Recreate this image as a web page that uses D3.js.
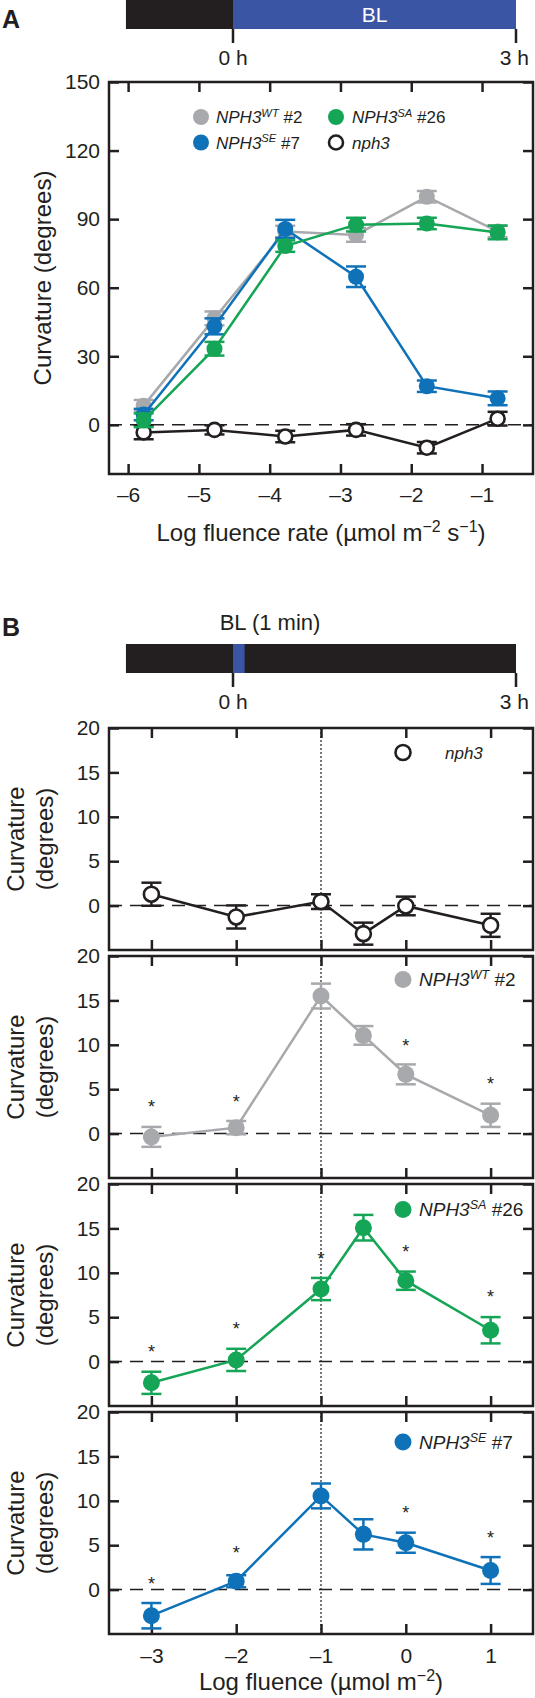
<!DOCTYPE html>
<html>
<head>
<meta charset="utf-8">
<script src="https://cdn.jsdelivr.net/npm/d3@7"></script>
<style>
  html, body { margin: 0; padding: 0; background: #fff; }
  svg { display: block; }
  text { font-family: "Liberation Sans", Arial, Helvetica, sans-serif; fill: #231f20; }
</style>
</head>
<body>
<div id="chart"></div>
<script>
// ---------------- DATA ----------------
// Panel A: log fluence rate (µmol m^-2 s^-1)
const fluenceRateA = [-5.78, -4.78, -3.78, -2.78, -1.78, -0.78];
const wtA   = [8.4, 46.6, 84.6, 83.1, 99.8, 84.6];
const wtAErr = [2.5, 3, 2.5, 3, 2.5, 2.5];
const seA   = [4.5, 43.1, 85.7, 64.8, 16.9, 11.6];
const seAErr = [2.5, 3.5, 4, 4.5, 2.5, 3];
const saA   = [2.0, 33.3, 78.2, 87.6, 88.1, 84.2];
const saAErr = [3, 3, 2.5, 3, 2.5, 3];
const nph3A = [-3.3, -2.2, -5.1, -2.2, -10.0, 2.7];
const nph3AErr = [3, 2, 2.5, 2.5, 2.5, 3];
const xTicksA = [-6, -5, -4, -3, -2, -1];
const yTicksA = [0, 30, 60, 90, 120, 150];

// Panel B: log fluence (µmol m^-2)
const fluenceB = [-3, -2, -1, -0.5, 0, 1];
const nph3B = [1.28, -1.28, 0.45, -3.16, -0.04, -2.22];
const nph3BErr = [1.3, 1.3, 0.83, 1.24, 1.05, 1.3];
const wtB = [-0.37, 0.67, 15.49, 11.06, 6.67, 2.06];
const wtBErr = [1.12, 0.75, 1.4, 1.05, 1.12, 1.31];
const saB = [-2.39, 0.19, 8.17, 15.08, 9.11, 3.53];
const saBErr = [1.25, 1.25, 1.25, 1.44, 1.03, 1.48];
const seB = [-2.94, 0.94, 10.55, 6.22, 5.28, 2.15];
const seBErr = [1.43, 0.68, 1.4, 1.7, 1.13, 1.51];
// significance asterisks (x, y in degrees)
const wtStarX = [-3, -2, 0, 1];
const wtStarY = [3.49, 4.05, 10.35, 6.04];
const saStarX = [-3, -2, -1, 0, 1];
const saStarY = [1.52, 4.1, 12.04, 12.84, 7.67];
const seStarX = [-3, -2, 0, 1];
const seStarY = [1.13, 4.52, 9.05, 6.22];
const xTicksB = [-3, -2, -1, 0, 1];
const yTicksB = [0, 5, 10, 15, 20];

// Timeline (hours)
const timeTicks = [0, 3];
const timeTickLabels = ["0 h", "3 h"];

// ---------------- STYLE ----------------
const C = {
  dark: "#231f20", grey: "#a7a9ac", green: "#15a556", blue: "#0f72b9", bl: "#3b55a5"
};
const FONT_TICK = 21, FONT_TITLE = 24;

const svg = d3.select("#chart").append("svg")
  .attr("width", 535).attr("height", 1698);
svg.append("rect").attr("width", 535).attr("height", 1698).attr("fill", "#fff");

// ---------- helpers ----------
function frameAndTicks(g, x, y, xt, yt, opts) {
  const [x0, x1] = x.range();
  const [yb, yt0] = y.range();
  // ticks (inward)
  const tl = 10;
  const ax = g.append("g").attr("class", "ticks");
  const bottom = d3.axisBottom(x).tickValues(xt).tickSize(-tl).tickSizeOuter(0)
    .tickPadding(opts.xPad || 13)
    .tickFormat(opts.xLabels ? (d => d < 0 ? "\u2013" + Math.abs(d) : String(d)) : "");
  ax.append("g").attr("transform", `translate(0,${yb})`).call(bottom);
  ax.append("g").attr("transform", `translate(0,${yt0})`)
    .call(d3.axisTop(x).tickValues(xt).tickSize(-tl).tickSizeOuter(0).tickFormat(""));
  ax.append("g").attr("transform", `translate(${x0},0)`)
    .call(d3.axisLeft(y).tickValues(yt).tickSize(-tl).tickSizeOuter(0).tickPadding(9));
  ax.append("g").attr("transform", `translate(${x1},0)`)
    .call(d3.axisRight(y).tickValues(yt).tickSize(-tl).tickSizeOuter(0).tickFormat(""));
  ax.selectAll(".domain").remove();
  ax.selectAll(".tick line").attr("stroke", C.dark).attr("stroke-width", 2.5);
  ax.selectAll(".tick text").attr("font-size", FONT_TICK).attr("fill", C.dark)
    .attr("font-family", '"Liberation Sans", Arial, sans-serif');
  // frame
  g.append("rect").attr("x", x0).attr("y", yt0).attr("width", x1 - x0).attr("height", yb - yt0)
    .attr("fill", "none").attr("stroke", C.dark).attr("stroke-width", 2.5);
}

function zeroLine(g, x, y) {
  g.append("line").attr("x1", x.range()[0]).attr("x2", x.range()[1])
    .attr("y1", y(0)).attr("y2", y(0))
    .attr("stroke", C.dark).attr("stroke-width", 1.5).attr("stroke-dasharray", "13,8");
}

function series(g, x, y, xs, vs, es, color, open, r, capW, lw) {
  const pts = xs.map((d, i) => ({ x: d, v: vs[i], e: es[i] }));
  const line = d3.line().x(d => x(d.x)).y(d => y(d.v));
  g.append("path").datum(pts).attr("d", line).attr("fill", "none")
    .attr("stroke", color).attr("stroke-width", lw);
  const eb = g.append("g");
  pts.forEach(p => {
    const cx = x(p.x), yt = y(p.v + p.e), ybm = y(p.v - p.e);
    eb.append("line").attr("x1", cx).attr("x2", cx).attr("y1", yt).attr("y2", ybm)
      .attr("stroke", color).attr("stroke-width", 2.5);
    [yt, ybm].forEach(yy => eb.append("line").attr("x1", cx - capW).attr("x2", cx + capW)
      .attr("y1", yy).attr("y2", yy).attr("stroke", color).attr("stroke-width", 2.5));
  });
  g.append("g").selectAll("circle").data(pts).join("circle")
    .attr("cx", d => x(d.x)).attr("cy", d => y(d.v))
    .attr("r", open ? r - 1 : r)
    .attr("fill", open ? "#fff" : color)
    .attr("stroke", open ? C.dark : "none").attr("stroke-width", open ? 2.6 : 0);
}

function legendItem(g, mx, my, tx, color, open, r, parts, fs) {
  g.append("circle").attr("cx", mx).attr("cy", my).attr("r", open ? r - 1 : r)
    .attr("fill", open ? "#fff" : color).attr("stroke", open ? C.dark : "none")
    .attr("stroke-width", open ? 2.6 : 0);
  const t = g.append("text").attr("x", tx).attr("y", my + fs * 0.36)
    .attr("font-size", fs).attr("font-style", "italic");
  t.append("tspan").text(parts[0]);
  if (parts[1]) {
    t.append("tspan").attr("dy", -fs * 0.38).attr("font-size", fs * 0.66).text(parts[1]);
    t.append("tspan").attr("dy", fs * 0.38).attr("font-style", "normal").text(" " + parts[2]);
  }
}

function timeline(g, tScale, y0, y1, segs, tickBottom, labelY) {
  segs.forEach(s => g.append("rect").attr("x", tScale(s.from)).attr("y", y0)
    .attr("width", tScale(s.to) - tScale(s.from)).attr("height", y1 - y0).attr("fill", s.color));
  timeTicks.forEach((t, i) => {
    g.append("line").attr("x1", tScale(t)).attr("x2", tScale(t)).attr("y1", y1).attr("y2", tickBottom)
      .attr("stroke", C.dark).attr("stroke-width", 2.5);
    g.append("text").attr("x", i === timeTicks.length - 1 ? 529 : tScale(t))
      .attr("y", labelY).attr("font-size", FONT_TICK)
      .attr("text-anchor", i === timeTicks.length - 1 ? "end" : "middle").text(timeTickLabels[i]);
  });
}

// ---------------- PANEL A ----------------
const gA = svg.append("g");
gA.append("text").attr("x", 2).attr("y", 28).attr("font-size", 25).attr("font-weight", "bold").text("A");
const tA = d3.scaleLinear().domain([0, 3]).range([233, 516]);
timeline(gA, tA, 0, 29, [
  { from: -1.135, to: 0, color: C.dark },
  { from: 0, to: 3, color: C.bl }
], 43, 65);
gA.append("text").attr("x", tA(1.5)).attr("y", 22).attr("text-anchor", "middle")
  .attr("font-size", 21).style("fill", "#fff").text("BL");

const xA = d3.scaleLinear().domain([-6.27, -0.28]).range([109, 533]);
const yA = d3.scaleLinear().domain([-21.5, 150]).range([474, 82]);
frameAndTicks(gA, xA, yA, xTicksA, yTicksA, { xLabels: true, xPad: 13 });
zeroLine(gA, xA, yA);
series(gA, xA, yA, fluenceRateA, nph3A, nph3AErr, C.dark, true, 8, 10, 2.5);
series(gA, xA, yA, fluenceRateA, wtA, wtAErr, C.grey, false, 8, 10, 2.5);
series(gA, xA, yA, fluenceRateA, seA, seAErr, C.blue, false, 8, 10, 2.5);
series(gA, xA, yA, fluenceRateA, saA, saAErr, C.green, false, 8, 10, 2.5);

legendItem(gA, 201, 117, 216, C.grey, false, 8, ["NPH3", "WT", "#2"], 17);
legendItem(gA, 336, 117, 352, C.green, false, 8, ["NPH3", "SA", "#26"], 17);
legendItem(gA, 201, 142.5, 216, C.blue, false, 8, ["NPH3", "SE", "#7"], 17);
legendItem(gA, 336, 142.5, 352, C.dark, true, 8, ["nph3"], 17);

gA.append("text").attr("transform", `translate(51,${(82 + 474) / 2}) rotate(-90)`)
  .attr("text-anchor", "middle").attr("font-size", FONT_TITLE).text("Curvature (degrees)");
{
  const t = gA.append("text").attr("x", 321).attr("y", 541).attr("text-anchor", "middle")
    .attr("font-size", FONT_TITLE);
  t.append("tspan").text("Log fluence rate (\u00b5mol m");
  t.append("tspan").attr("dy", -9).attr("font-size", 16).text("\u22122");
  t.append("tspan").attr("dy", 9).text(" s");
  t.append("tspan").attr("dy", -9).attr("font-size", 16).text("\u22121");
  t.append("tspan").attr("dy", 9).text(")");
}

// ---------------- PANEL B ----------------
const gB = svg.append("g");
gB.append("text").attr("x", 2).attr("y", 636).attr("font-size", 25).attr("font-weight", "bold").text("B");
gB.append("text").attr("x", 270).attr("y", 630).attr("text-anchor", "middle").attr("font-size", 22).text("BL (1 min)");
timeline(gB, tA, 644, 673, [
  { from: -1.135, to: 3, color: C.dark },
  { from: 0, to: 0.123, color: C.bl }
], 687, 709);

const xB = d3.scaleLinear().domain([-3.5, 1.5]).range([109, 533]);
const subTops = [728, 956, 1184, 1412];
const subH = 222;
const subs = [
  { v: nph3B, e: nph3BErr, color: C.dark, open: true, sx: [], sy: [], leg: ["nph3"], legDy: 24.5, tx: 445, fs: 17 },
  { v: wtB, e: wtBErr, color: C.grey, open: false, sx: wtStarX, sy: wtStarY, leg: ["NPH3", "WT", "#2"], legDy: 23.5, tx: 419, fs: 19 },
  { v: saB, e: saBErr, color: C.green, open: false, sx: saStarX, sy: saStarY, leg: ["NPH3", "SA", "#26"], legDy: 25.5, tx: 419, fs: 19 },
  { v: seB, e: seBErr, color: C.blue, open: false, sx: seStarX, sy: seStarY, leg: ["NPH3", "SE", "#7"], legDy: 30, tx: 419, fs: 19 }
];
subs.forEach((s, i) => {
  const top = subTops[i];
  const y = d3.scaleLinear().domain([-5, 20]).range([top + subH, top]);
  const g = gB.append("g");
  // dotted reference line at log fluence -1
  g.append("line").attr("x1", xB(-1)).attr("x2", xB(-1)).attr("y1", top).attr("y2", top + subH)
    .attr("stroke", C.dark).attr("stroke-width", 1.2).attr("stroke-dasharray", "2,2");
  frameAndTicks(g, xB, y, xTicksB, yTicksB, { xLabels: i === 3, xPad: 14 });
  zeroLine(g, xB, y);
  series(g, xB, y, fluenceB, s.v, s.e, s.color, s.open, 8.5, 10, 2.5);
  s.sx.forEach((sx, k) => g.append("text").attr("x", xB(sx)).attr("y", y(s.sy[k]) + 10)
    .attr("text-anchor", "middle").attr("font-size", 18).text("*"));
  legendItem(g, 403, top + s.legDy, s.tx, s.color, s.open, 8.5, s.leg, s.fs);
  // y title (two lines)
  const cy = top + subH / 2;
  g.append("text").attr("transform", `translate(24,${cy}) rotate(-90)`)
    .attr("text-anchor", "middle").attr("font-size", FONT_TITLE).text("Curvature");
  g.append("text").attr("transform", `translate(53,${cy}) rotate(-90)`)
    .attr("text-anchor", "middle").attr("font-size", FONT_TITLE).text("(degrees)");
});
{
  const t = gB.append("text").attr("x", 321).attr("y", 1690).attr("text-anchor", "middle")
    .attr("font-size", FONT_TITLE);
  t.append("tspan").text("Log fluence (\u00b5mol m");
  t.append("tspan").attr("dy", -9).attr("font-size", 16).text("\u22122");
  t.append("tspan").attr("dy", 9).text(")");
}
</script>
</body>
</html>
